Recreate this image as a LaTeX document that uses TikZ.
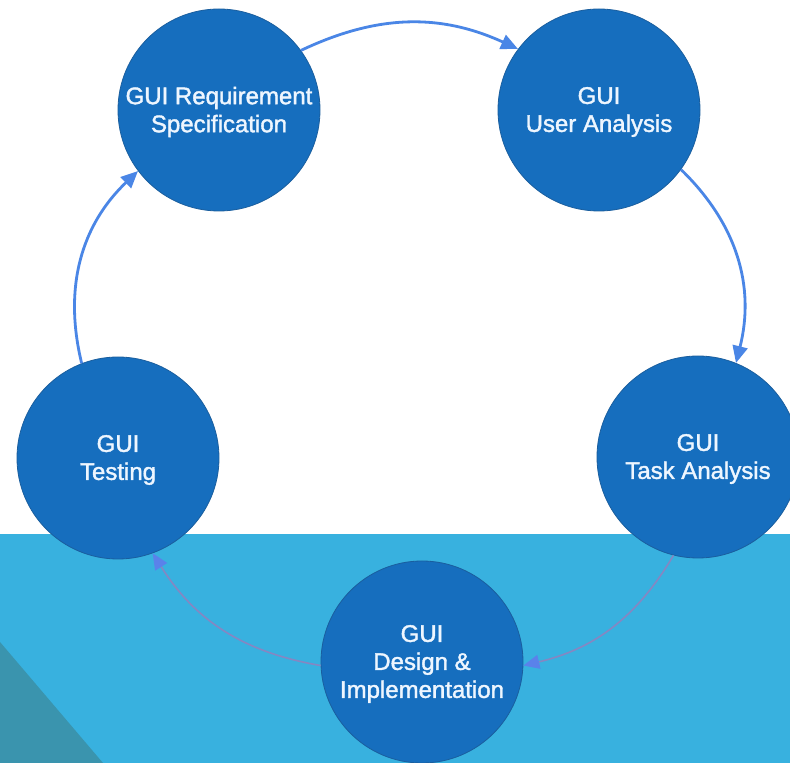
\documentclass[tikz,border=0pt]{standalone}
\usepackage{fontspec}
\setmainfont{Liberation Sans}
\newfontfamily\stagefont{Liberation Sans}[FakeBold=1.6]
\usetikzlibrary{arrows.meta}

\definecolor{stagefill}{HTML}{166EBE}
\definecolor{stageedge}{HTML}{1A5E9E}
\definecolor{stagetext}{HTML}{EEF6FF}
\definecolor{band}{HTML}{38B1DF}
\definecolor{wedge}{HTML}{3A94AE}
\definecolor{flow}{HTML}{4A86E6}
\definecolor{flowlow}{HTML}{8587C2}
\definecolor{tiplow}{HTML}{5A82EA}

\tikzset{
  stage/.style={circle, fill=stagefill, draw=stageedge, line width=0.8pt,
    minimum size=202pt, inner sep=0pt},
  stagetxt/.style={anchor=center, align=center, text=stagetext,
    font=\stagefont\fontsize{24}{28}\selectfont},
  flowarrow/.style={draw=flow, line width=2.8pt,
    -{Triangle[length=17pt,width=15pt]}},
  flowarrowlow/.style={draw=flowlow, line width=1.6pt,
    -{Triangle[length=16pt,width=14pt,color=tiplow]}}
}

\begin{document}
\begin{tikzpicture}[x=1pt,y=1pt]
  % canvas and background bands
  \useasboundingbox (0,0) rectangle (790,763);
  \fill[white] (0,0) rectangle (790,763);
  \fill[band] (0,0) rectangle (790,229);
  \fill[wedge] (0,0) -- (103,0) -- (0,121) -- cycle;

  % process stages
  \node[stage] (req)  at (219,653) {};
  \node[stage] (user) at (599,653) {};
  \node[stage] (task) at (698,306) {};
  \node[stage] (des)  at (422,101) {};
  \node[stage] (test) at (118,305) {};

  % stage labels, set a little below the geometric centre
  \node[stagetxt] (reqL)  at ([yshift=-2pt]req.center)  {GUI Requirement\\Specification};
  \node[stagetxt] (userL) at ([yshift=-2pt]user.center) {GUI\\User Analysis};
  \node[stagetxt] (taskL) at ([yshift=-2pt]task.center) {GUI\\Task Analysis};
  \node[stagetxt] (desL)  at ([yshift=-2pt]des.center)  {GUI\\Design \&\\Implementation};
  \node[stagetxt] (testL) at ([yshift=-2pt]test.center) {GUI\\Testing};

  % cycle connectors
  \draw[flowarrow] (req.36) to[bend left=25] (user.143);
  \draw[flowarrow] (user.-36) to[bend left=30] (task.68);
  \draw[flowarrowlow] (task.256) to[bend left=23] (des.-2);
  \draw[flowarrowlow] (des.182) to[bend left=24] (test.-70);
  \draw[flowarrow] (test.111) to[bend left=30] (req.217);
\end{tikzpicture}
\end{document}
